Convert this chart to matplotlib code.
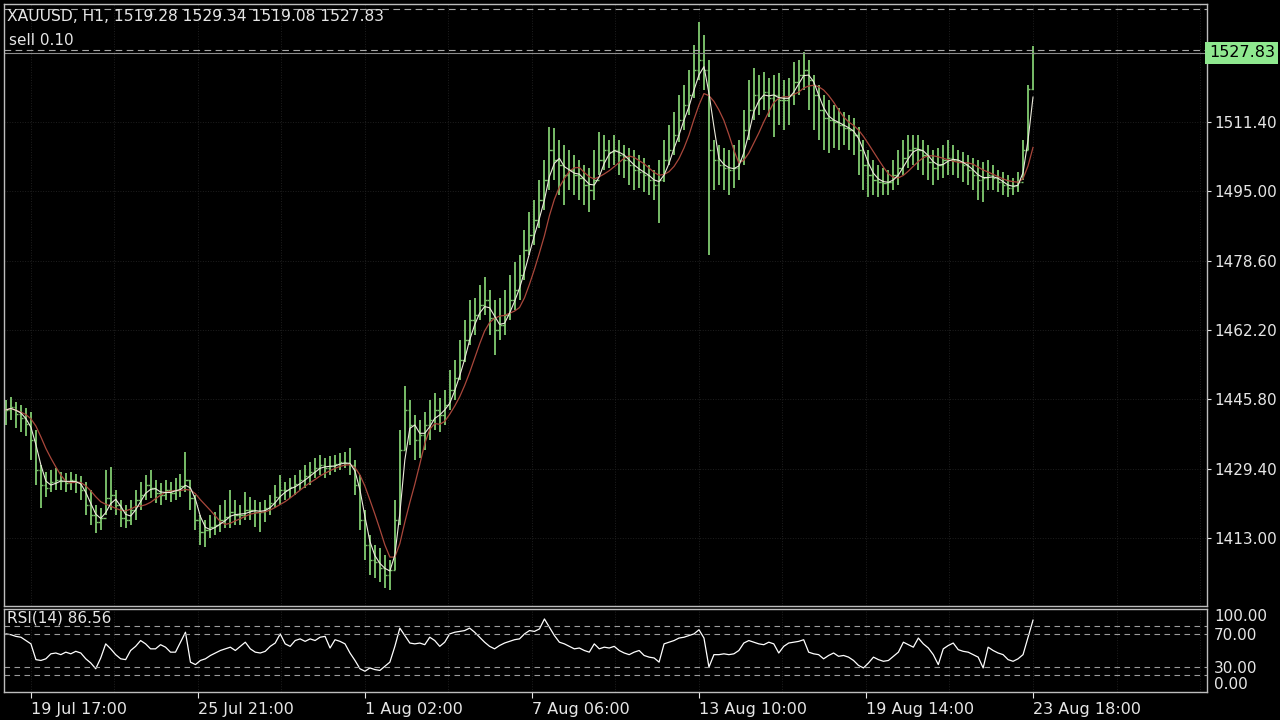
import numpy as np
import pandas as pd
import matplotlib
matplotlib.use("Agg")
import matplotlib.pyplot as plt
from matplotlib.transforms import blended_transform_factory

# ---- data (one entry ~ 3 hourly bars, last one is the live H1 bar) ----
SYMBOL = "XAUUSD, H1"
LAST_OPEN = 1519.28
SELL_LOTS = "0.10"
SELL_PRICE = 1528.35
TOP_LEVEL = 1538.1

HIGH = [
    1445.6, 1446.4, 1445.2, 1444.5, 1443.8, 1442.8, 1438.6, 1430.3, 1428.6, 1429.1,
    1429.6, 1428.6, 1428.4, 1428.6, 1428.1, 1427.7, 1426.3, 1424.4, 1420.8, 1420.1,
    1429.1, 1429.8, 1424.4, 1422.0, 1420.8, 1422.0, 1424.4, 1426.3, 1427.9, 1429.1,
    1426.7, 1426.0, 1426.7, 1426.3, 1427.2, 1428.1, 1433.3, 1426.7, 1423.2, 1418.4,
    1417.3, 1418.4, 1419.2, 1420.8, 1422.0, 1424.4, 1422.0, 1420.8, 1423.9, 1422.7,
    1422.0, 1421.5, 1422.0, 1423.2, 1425.5, 1427.9, 1426.3, 1427.2, 1427.9, 1429.1,
    1430.3, 1431.0, 1431.9, 1432.6, 1431.9, 1432.4, 1432.6, 1433.1, 1433.3, 1434.3,
    1431.5, 1427.9, 1419.6, 1413.7, 1411.4, 1410.6, 1409.0, 1407.8, 1422.0, 1438.6,
    1449.0, 1445.6, 1442.1, 1440.9, 1442.8, 1445.6, 1447.3, 1446.1, 1448.0, 1452.7,
    1455.1, 1459.8, 1464.6, 1469.3, 1469.8, 1472.9, 1474.7, 1471.7, 1469.3, 1469.8,
    1471.7, 1475.2, 1478.3, 1479.9, 1485.9, 1490.1, 1493.0, 1497.7, 1502.4, 1510.2,
    1510.0, 1507.1, 1506.0, 1504.8, 1503.6, 1502.4, 1501.2, 1500.5, 1504.8, 1509.0,
    1508.3, 1507.1, 1508.3, 1507.1, 1506.0, 1505.3, 1504.8, 1503.6, 1502.9, 1501.2,
    1500.1, 1502.4, 1507.1, 1510.7, 1513.8, 1517.8, 1520.2, 1523.7, 1529.6, 1535.1,
    1532.0, 1526.1, 1507.1, 1506.0, 1505.3, 1504.8, 1506.0, 1507.1, 1514.2, 1521.3,
    1524.2, 1522.5, 1523.2, 1521.8, 1522.5, 1523.0, 1521.3, 1521.8, 1525.6, 1526.1,
    1528.0, 1526.1, 1522.5, 1520.2, 1517.8, 1516.6, 1515.4, 1514.7, 1513.8, 1513.1,
    1512.4, 1510.2, 1507.1, 1504.8, 1502.4, 1501.2, 1500.5, 1500.1, 1502.4, 1504.8,
    1507.1, 1508.3, 1508.3, 1508.3, 1507.1, 1506.0, 1504.8, 1505.3, 1506.0, 1507.1,
    1506.0, 1504.8, 1504.3, 1503.6, 1502.9, 1502.4, 1501.9, 1502.4, 1501.2, 1500.1,
    1499.6, 1498.9, 1498.2, 1499.6, 1507.1, 1520.2, 1529.34,
]
LOW = [
    1439.7, 1440.9, 1439.0, 1438.1, 1437.1, 1431.5, 1425.5, 1420.1, 1422.7, 1423.9,
    1424.4, 1424.4, 1423.9, 1424.4, 1423.7, 1422.0, 1418.4, 1416.1, 1414.2, 1414.9,
    1418.4, 1419.6, 1418.4, 1415.6, 1415.4, 1416.1, 1417.3, 1419.6, 1422.0, 1422.5,
    1421.3, 1420.8, 1422.0, 1421.5, 1422.0, 1422.7, 1423.9, 1419.6, 1414.9, 1411.4,
    1410.9, 1413.0, 1413.7, 1414.4, 1415.4, 1415.4, 1416.1, 1416.1, 1417.3, 1417.3,
    1415.6, 1414.4, 1416.8, 1418.4, 1420.1, 1420.8, 1422.0, 1422.5, 1423.2, 1424.4,
    1424.8, 1425.5, 1427.2, 1427.9, 1427.2, 1427.9, 1428.6, 1429.1, 1429.6, 1427.9,
    1423.2, 1414.9, 1407.8, 1404.3, 1403.5, 1402.6, 1401.2, 1400.7, 1405.4, 1416.1,
    1433.8, 1435.0, 1431.5, 1431.9, 1433.8, 1436.2, 1438.6, 1438.1, 1439.7, 1443.3,
    1445.6, 1450.4, 1454.6, 1458.7, 1461.0, 1464.6, 1465.8, 1461.0, 1456.3, 1459.8,
    1461.0, 1464.6, 1466.9, 1469.3, 1474.0, 1479.9, 1482.3, 1486.3, 1490.6, 1495.3,
    1497.7, 1494.1, 1491.8, 1495.3, 1494.1, 1493.0, 1491.8, 1490.1, 1493.0, 1498.9,
    1500.1, 1500.5, 1501.2, 1498.9, 1498.2, 1496.5, 1495.3, 1495.8, 1494.8, 1494.1,
    1493.0, 1487.5, 1497.2, 1501.2, 1503.6, 1506.7, 1509.5, 1513.1, 1517.1, 1521.3,
    1519.0, 1479.9, 1495.3, 1496.5, 1495.3, 1494.1, 1495.8, 1497.7, 1501.2, 1507.1,
    1511.9, 1513.1, 1514.2, 1512.6, 1507.9, 1510.7, 1509.5, 1510.7, 1515.4, 1517.8,
    1519.0, 1514.2, 1509.5, 1507.1, 1504.8, 1504.1, 1505.3, 1504.8, 1506.0, 1504.8,
    1503.6, 1498.9, 1495.3, 1493.7, 1494.1, 1493.7, 1494.1, 1494.1, 1495.3, 1496.5,
    1498.9, 1500.5, 1501.2, 1500.1, 1498.9, 1497.7, 1496.5, 1497.7, 1498.2, 1498.9,
    1498.9, 1498.2, 1497.2, 1496.5, 1495.3, 1493.0, 1492.5, 1495.3, 1495.3, 1494.8,
    1494.1, 1493.7, 1494.1, 1494.8, 1497.7, 1504.8, 1519.08,
]
CLOSE = [
    1443.3, 1444.0, 1442.3, 1441.4, 1440.0, 1436.2, 1429.1, 1425.5, 1424.8, 1426.3,
    1426.7, 1426.5, 1426.0, 1426.7, 1426.3, 1424.4, 1420.8, 1418.4, 1416.8, 1417.7,
    1422.5, 1423.2, 1420.8, 1417.7, 1417.3, 1419.6, 1422.0, 1423.2, 1425.5, 1424.8,
    1423.7, 1423.2, 1424.4, 1423.7, 1424.4, 1425.3, 1426.7, 1422.5, 1417.3, 1414.4,
    1414.9, 1415.6, 1416.1, 1417.3, 1418.0, 1419.2, 1418.4, 1418.4, 1419.6, 1419.6,
    1419.2, 1419.2, 1420.1, 1421.3, 1422.7, 1424.4, 1424.4, 1425.1, 1425.8, 1426.7,
    1427.7, 1428.6, 1429.6, 1430.3, 1429.6, 1430.0, 1430.5, 1431.0, 1430.7, 1430.3,
    1425.5, 1417.3, 1411.4, 1407.8, 1407.3, 1405.9, 1404.3, 1405.4, 1417.3, 1433.8,
    1443.3, 1439.7, 1436.2, 1437.4, 1439.7, 1440.9, 1443.3, 1442.1, 1444.5, 1448.0,
    1450.9, 1455.1, 1459.8, 1464.6, 1465.8, 1468.1, 1469.3, 1465.0, 1462.2, 1463.4,
    1465.8, 1469.3, 1471.7, 1475.2, 1481.1, 1484.7, 1488.2, 1493.0, 1497.7, 1504.8,
    1502.4, 1501.2, 1498.9, 1500.1, 1498.9, 1498.2, 1496.5, 1495.3, 1497.7, 1502.4,
    1504.8, 1504.3, 1504.8, 1503.6, 1502.4, 1501.2, 1500.1, 1499.6, 1498.9, 1497.7,
    1496.5, 1497.7, 1502.4, 1504.8, 1508.3, 1511.9, 1515.4, 1517.8, 1523.7, 1526.1,
    1523.7, 1504.8, 1502.4, 1501.2, 1500.5, 1500.1, 1500.5, 1502.4, 1509.5, 1514.2,
    1517.8, 1517.1, 1518.5, 1517.1, 1517.8, 1516.6, 1516.6, 1517.8, 1520.9, 1522.5,
    1523.7, 1521.3, 1517.8, 1514.2, 1512.4, 1511.9, 1511.4, 1510.7, 1510.0, 1509.5,
    1508.3, 1504.8, 1501.2, 1498.9, 1497.7, 1497.2, 1497.0, 1497.2, 1498.9, 1500.5,
    1502.9, 1504.8, 1505.3, 1504.8, 1503.6, 1501.9, 1500.5, 1501.2, 1502.4, 1502.9,
    1502.4, 1501.9, 1501.2, 1500.1, 1498.9, 1497.7, 1498.2, 1498.9, 1498.2, 1497.2,
    1496.5, 1495.8, 1496.3, 1497.2, 1504.8, 1519.28, 1527.83,
]
RSI = [
    70, 69, 67, 66, 62, 58, 39, 38, 40, 46,
    47, 45, 48, 46, 49, 47, 40, 35, 28, 41,
    58, 52, 45, 40, 39, 50, 55, 62, 58, 52,
    52, 57, 54, 48, 48, 60, 72, 36, 33, 38,
    40, 44, 47, 50, 52, 54, 50, 55, 60, 52,
    48, 47, 49, 55, 59, 70, 58, 55, 62, 64,
    61, 64, 62, 66, 67, 53, 63, 61, 58, 47,
    38, 28, 25, 29, 27, 26, 31, 36, 55, 77,
    68, 59, 58, 59, 57, 66, 62, 55, 60, 70,
    72, 73, 74, 77, 72, 66, 60, 55, 52, 56,
    59, 61, 63, 64, 70, 74, 73, 76, 88, 78,
    68, 60, 58, 55, 52, 53, 50, 48, 58, 52,
    54, 53, 55, 50, 47, 45, 48, 50, 44, 42,
    41, 36, 58, 60, 62, 65, 66, 68, 70, 75,
    65, 30, 45, 45, 46, 45, 46, 50, 59, 62,
    60, 58, 57, 60, 58, 47, 55, 59, 60, 61,
    63, 48, 46, 45, 40, 44, 47, 43, 44, 42,
    38, 32, 29, 35, 42, 39, 37, 38, 43, 48,
    60, 57, 54, 65, 58, 53, 45, 33, 52, 56,
    59, 51, 49, 48, 45, 42, 29, 54, 50, 47,
    45, 39, 37, 40, 45, 66, 86.56,
]

TIME_LABELS = ["19 Jul 17:00", "25 Jul 21:00", "1 Aug 02:00", "7 Aug 06:00",
               "13 Aug 10:00", "19 Aug 14:00", "23 Aug 18:00"]
TIME_TICKS = [5.0, 38.5, 72.0, 105.5, 139.0, 172.5, 206.0]
PRICE_TICKS = [1511.40, 1495.00, 1478.60, 1462.20, 1445.80, 1429.40, 1413.00]
RSI_LEVELS = [20, 30, 70, 80]
RSI_TICKS = [100, 70, 30, 0]

BAR = "#7cc46c"
FG = "#e6e6e6"
FRAME = "#bdbdbd"
GRID = "#1f1f1f"

idx = np.arange(len(CLOSE))
close = np.array(CLOSE)
opens = np.r_[close[0], close[:-1]]
opens[-1] = LAST_OPEN
ma_fast = pd.Series(close).rolling(3, min_periods=1).mean()
ma_slow = pd.Series(close).rolling(7, min_periods=1).mean()

fig = plt.figure(figsize=(12.8, 7.2), dpi=100, facecolor="black")
ax = fig.add_axes([4 / 1280, 114 / 720, 1203 / 1280, 602 / 720], facecolor="black")
rax = fig.add_axes([4 / 1280, 28 / 720, 1203 / 1280, 83 / 720], facecolor="black")

xlim = (-0.4, 240.9)
# grid runs at half the label spacing, like the terminal does
grid_x = np.arange(TIME_TICKS[0] - 16.75, xlim[1], 16.75)

# ---- price panel ----
for g in grid_x:
    ax.axvline(g, color=GRID, ls=":", lw=0.7, zorder=0)
    rax.axvline(g, color=GRID, ls=":", lw=0.7, zorder=0)
for p in PRICE_TICKS:
    ax.axhline(p, color=GRID, ls=":", lw=0.7, zorder=0)

ax.vlines(idx, LOW, HIGH, color=BAR, lw=1.35)
ax.hlines(opens, idx - 0.45, idx, color=BAR, lw=1.0)
ax.hlines(close, idx, idx + 0.45, color=BAR, lw=1.0)
ax.plot(idx, ma_slow, color="#a9473b", lw=0.9)
ax.plot(idx, ma_fast, color="#ecebdc", lw=0.8)

ax.axhline(TOP_LEVEL, color="#a8a8a8", lw=0.8, ls=(0, (6, 4)))
ax.axhline(SELL_PRICE, color="#a8a8a8", lw=0.8, ls=(0, (6, 4)))
ax.axhline(close[-1], color="#8c8c8c", lw=0.8)

ax.set_xlim(*xlim)
ax.set_ylim(1396.92, 1539.31)
ax.yaxis.tick_right()
ax.set_yticks(PRICE_TICKS)
ax.set_yticklabels([f"{p:.2f}" for p in PRICE_TICKS])
ax.set_xticks([])
ax.tick_params(axis="y", colors=FG, labelsize=11, length=3, pad=2)

blend = blended_transform_factory(ax.transAxes, ax.transData)
ax.text(1.0015, close[-1], f"{close[-1]:.2f}", transform=blend, ha="left",
        va="center", fontsize=11.5, color="black",
        bbox=dict(boxstyle="square,pad=0.22", fc="#8fe88f", ec="none"))
ax.text(0.0025, 0.979, f"{SYMBOL}, {LAST_OPEN:.2f} {HIGH[-1]:.2f} {LOW[-1]:.2f} {CLOSE[-1]:.2f}",
        transform=ax.transAxes, ha="left", va="center", fontsize=11.2, color=FG)
ax.text(0.004, 0.94, f"sell {SELL_LOTS}", transform=ax.transAxes,
        ha="left", va="center", fontsize=11, color=FG)

# ---- RSI panel ----
rax.plot(idx, RSI, color="white", lw=0.9)
for lvl in RSI_LEVELS:
    rax.axhline(lvl, color="#9a9a9a", lw=0.8, ls=(0, (5, 4)))
rax.set_xlim(*xlim)
rax.set_ylim(0, 100)
rax.yaxis.tick_right()
rax.set_yticks(RSI_TICKS)
rax.set_yticklabels([f"{v:.2f}" for v in RSI_TICKS])
labels = rax.get_yticklabels()
labels[0].set_va("top")
labels[-1].set_va("bottom")
rax.tick_params(axis="y", colors=FG, labelsize=11, length=0, pad=5)
rax.set_xticks(TIME_TICKS)
rax.set_xticklabels(TIME_LABELS, ha="left")
rax.tick_params(axis="x", colors=FG, labelsize=11.5, length=4, pad=3)
rax.text(0.0025, 0.89, f"RSI(14) {RSI[-1]:.2f}", transform=rax.transAxes,
         ha="left", va="center", fontsize=11, color=FG)

for a in (ax, rax):
    for s in a.spines.values():
        s.set_color(FRAME)
        s.set_linewidth(1.0)

fig.savefig("out.png", dpi=100, facecolor="black")
